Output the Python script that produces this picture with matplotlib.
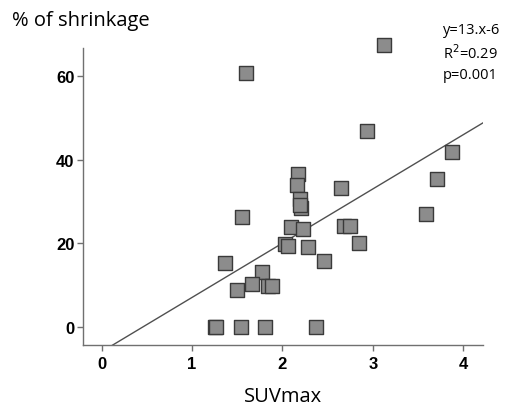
import matplotlib
matplotlib.use('Agg')
import matplotlib.pyplot as plt
import numpy as np

# SUVmax vs % of shrinkage
suv = [1.60, 3.12, 2.94, 3.88, 3.71, 2.17, 2.16, 2.65, 2.19, 2.21, 2.20,
       1.55, 3.59, 2.09, 2.23, 2.68, 2.75, 2.03, 2.06, 2.28, 2.85, 2.46,
       1.37, 1.77, 1.66, 1.84, 1.89, 1.50, 1.25, 1.27, 1.54, 1.81, 2.37]
shrink = [60.8, 67.6, 47.0, 41.9, 35.3, 36.5, 33.9, 33.3, 30.5, 28.5, 29.1,
          26.4, 27.1, 23.9, 23.3, 24.1, 24.1, 19.8, 19.4, 19.0, 20.1, 15.7,
          15.2, 13.0, 10.2, 9.8, 9.7, 8.9, 0, 0, 0, 0, 0]
slope = 13.0
intercept = -6.0

fig = plt.figure(figsize=(5.12, 4.06), dpi=100)
ax = fig.add_axes([0.1615, 0.1478, 0.7819, 0.7315])

ax.set_xlim(-0.21, 4.22)
ax.set_ylim(-4.4, 66.8)

# regression line over the whole x range
xl = np.array(ax.get_xlim())
ax.plot(xl, slope * xl + intercept, color='#505050', lw=1.0, zorder=2)

ax.scatter(suv, shrink, marker='s', s=88, facecolor='#8c8c8c',
           edgecolor='#3a3a3a', linewidth=1.0, zorder=3, clip_on=False)

for s in ['top', 'right']:
    ax.spines[s].set_visible(False)
for s in ['left', 'bottom']:
    ax.spines[s].set_color('#707070')
    ax.spines[s].set_linewidth(1.0)

ax.set_xticks([0, 1, 2, 3, 4])
ax.set_yticks([0, 20, 40, 60])
ax.tick_params(colors='#707070', length=4.5, width=1.0, labelcolor='black')
ax.tick_params(axis='x', pad=3.5)
ax.tick_params(axis='y', pad=1.5)
for lab in ax.get_xticklabels() + ax.get_yticklabels():
    lab.set_fontfamily('Liberation Sans')
    lab.set_fontweight('bold')
    lab.set_fontsize(12)

fig.text(0.024, 0.948, '% of shrinkage', fontsize=14.5, family='Open Sans',
         va='center', ha='left')
fig.text(0.553, 0.022, 'SUVmax', fontsize=14.5, family='Open Sans',
         va='center', ha='center')
fig.text(0.865, 0.8695, 'y=13.x-6\nR$^2$=0.29\np=0.001', fontsize=10.5,
         family='Open Sans', va='center', ha='left', linespacing=1.45)

plt.savefig('out.png', dpi=100)
